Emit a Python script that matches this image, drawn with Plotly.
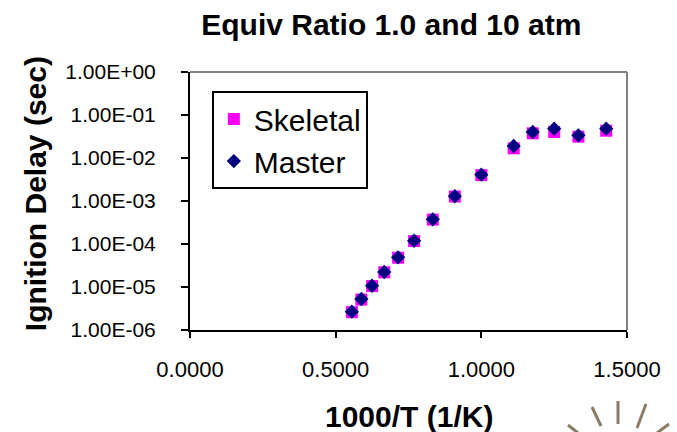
import plotly.graph_objects as go

# 1000/T (1/K)
inv_T = [0.5556, 0.5882, 0.6250, 0.6667, 0.7143, 0.7692, 0.8333, 0.9091,
         1.0000, 1.1111, 1.1765, 1.2500, 1.3333, 1.4286]
# Ignition delay (sec)
skeletal = [2.6e-6, 5.1e-6, 1.05e-5, 2.2e-5, 4.8e-5, 1.17e-4, 3.7e-4, 1.27e-3,
            4.0e-3, 1.68e-2, 3.75e-2, 4.02e-2, 3.13e-2, 4.31e-2]
master = [2.67e-6, 5.26e-6, 1.07e-5, 2.23e-5, 4.9e-5, 1.19e-4, 3.75e-4, 1.29e-3,
          4.09e-3, 1.9e-2, 4.02e-2, 4.8e-2, 3.37e-2, 4.8e-2]

x_ticks = [0.0, 0.5, 1.0, 1.5]
x_tick_text = ["0.0000", "0.5000", "1.0000", "1.5000"]
y_ticks = [1e-6, 1e-5, 1e-4, 1e-3, 1e-2, 1e-1, 1e0]
y_tick_text = ["1.00E-06", "1.00E-05", "1.00E-04", "1.00E-03", "1.00E-02", "1.00E-01", "1.00E+00"]

FONT = "Arial, 'Liberation Sans', sans-serif"

fig = go.Figure()
fig.add_trace(go.Scatter(x=inv_T, y=skeletal, mode="markers", name="Skeletal",
                         marker=dict(symbol="square", size=12, color="#FF00FF",
                                     line=dict(width=0))))
fig.add_trace(go.Scatter(x=inv_T, y=master, mode="markers", name="Master",
                         marker=dict(symbol="diamond", size=11, color="#000080",
                                     line=dict(width=0))))

fig.update_layout(
    width=677, height=432,
    margin=dict(l=190, r=50, t=72, b=102),
    paper_bgcolor="white", plot_bgcolor="white",
    font=dict(family=FONT, color="black"),
    showlegend=True,
    legend=dict(x=0.05, y=0.926, xanchor="left", yanchor="top",
                bgcolor="white", bordercolor="black", borderwidth=2,
                font=dict(size=30, family=FONT, color="black"),
                itemsizing="trace"),
    title=dict(text="<b>Equiv Ratio 1.0 and 10 atm</b>", x=0.578, xanchor="center",
               y=0.944, yanchor="middle", font=dict(size=30, family=FONT, color="black")),
)

fig.update_xaxes(range=[0, 1.5], tickmode="array", tickvals=x_ticks, ticktext=x_tick_text,
                 showgrid=False, zeroline=False, showline=True, linecolor="black", linewidth=2,
                 ticks="outside", ticklen=6, tickwidth=2, tickcolor="black",
                 tickfont=dict(size=22, family=FONT, color="black"), ticklabelstandoff=13)
fig.update_yaxes(type="log", range=[-6, 0], tickmode="array", tickvals=y_ticks, ticktext=y_tick_text,
                 showgrid=False, zeroline=False, showline=True, linecolor="black", linewidth=2,
                 ticks="outside", ticklen=7, tickwidth=2, tickcolor="black",
                 tickfont=dict(size=21, family=FONT, color="black"), ticklabelstandoff=21)

# top and right gray frame lines
fig.add_shape(type="line", xref="paper", yref="paper", x0=0, x1=1, y0=1, y1=1,
              line=dict(color="#808080", width=2))
fig.add_shape(type="line", xref="paper", yref="paper", x0=1, x1=1, y0=0, y1=1,
              line=dict(color="#808080", width=2))

fig.add_annotation(text="<b>1000/T (1/K)</b>", xref="paper", yref="paper", x=0.5, y=-0.335,
                   xanchor="center", yanchor="middle", showarrow=False,
                   font=dict(size=30, family=FONT, color="black"))
fig.add_annotation(text="<b>Ignition Delay (sec)</b>", xref="paper", yref="paper", x=-0.355, y=0.53,
                   xanchor="center", yanchor="middle", showarrow=False, textangle=-90,
                   font=dict(size=30, family=FONT, color="black"))

# decorative partial starburst in the lower-right corner of the slide
def px(xp):
    return (xp - 190) / 437

def py(yp):
    return (330 - yp) / 258

rays = [((618, 401), (618, 424)), ((592, 407), (601, 426)), ((646, 404), (637, 428)),
        ((568, 425), (578, 433)), ((669, 424), (657, 433))]
for (xa, ya), (xb, yb) in rays:
    fig.add_shape(type="line", xref="paper", yref="paper",
                  x0=px(xa), y0=py(ya), x1=px(xb), y1=py(yb),
                  line=dict(color="#8A7A66", width=3))

fig.write_html("out.html")
